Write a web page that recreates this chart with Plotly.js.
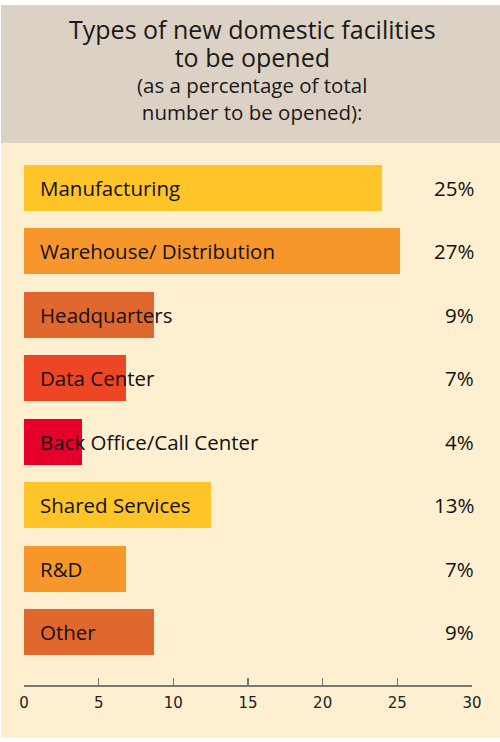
<!DOCTYPE html>
<html>
<head>
<meta charset="utf-8">
<script src="https://cdn.plot.ly/plotly-3.0.1.min.js"></script>
<style>
  html, body { margin: 0; padding: 0; background: #fff; }
  #chart { width: 500px; height: 742px; }
</style>
</head>
<body>
<div id="chart"></div>
<script>
// data
const categories = ['Manufacturing', 'Warehouse/ Distribution', 'Headquarters', 'Data Center',
  'Back Office/Call Center', 'Shared Services', 'R&D', 'Other'];
const barValues = [24.0, 25.2, 8.7, 6.8, 3.9, 12.5, 6.8, 8.7];
const pctLabels = ['25%', '27%', '9%', '7%', '4%', '13%', '7%', '9%'];
const barColors = ['#FEC428', '#F7962B', '#E0672E', '#EE4524', '#E4002B', '#FEC428', '#F7962B', '#E0672E'];
const tickVals = [0, 5, 10, 15, 20, 25, 30];

const titleMain = ['Types of new domestic facilities', 'to be opened'];
const titleSub = ['(as a percentage of total', 'number to be opened):'];

const W = 500, H = 742;
const margin = { l: 24, r: 28, t: 156, b: 57 };
const plotH = H - margin.t - margin.b;
const plotW = W - margin.l - margin.r;
// pixel -> paper helpers for the background bands
const py = px => (H - margin.b - px) / plotH;
const pxX = px => (px - margin.l) / plotW;

const labelFont = { family: 'Open Sans, sans-serif', size: 20.5, color: '#111' };

const trace = {
  type: 'bar',
  orientation: 'h',
  y: categories,
  x: barValues,
  marker: { color: barColors, line: { width: 0 } },
  width: 0.72,
  hoverinfo: 'skip'
};

const annotations = [];
categories.forEach((c, i) => {
  annotations.push({
    x: 0, y: c, xref: 'x', yref: 'y',
    text: c, showarrow: false, xanchor: 'left', xshift: 14,
    font: labelFont
  });
  annotations.push({
    x: 30, y: c, xref: 'x', yref: 'y',
    text: pctLabels[i], showarrow: false, xanchor: 'right', xshift: 4,
    font: labelFont
  });
});

// title: two blocks in the grey band, line gap = 1.3 * base size
const titleBlock = (lines, base, size, cy) => ({
  x: pxX(252), y: py(cy), xref: 'paper', yref: 'paper',
  text: lines.map(l => '<span style="font-size:' + size + 'px">' + l + '</span>').join('<br>'),
  showarrow: false, xanchor: 'center', yanchor: 'middle',
  font: { family: 'Open Sans, sans-serif', size: base, color: '#1a1a1a' }
});
annotations.push(titleBlock(titleMain, 21.5, 25, 43));
annotations.push(titleBlock(titleSub, 20.5, 20.5, 98.5));

const layout = {
  width: W,
  height: H,
  margin: margin,
  paper_bgcolor: '#FFFFFF',
  plot_bgcolor: 'rgba(0,0,0,0)',
  showlegend: false,
  bargap: 0,
  xaxis: {
    range: [0, 30],
    tickvals: tickVals,
    ticks: 'inside',
    ticklen: 7,
    tickwidth: 1.5,
    tickcolor: '#777',
    showline: true,
    linecolor: '#777',
    linewidth: 1.5,
    showgrid: false,
    zeroline: false,
    tickfont: { family: 'DejaVu Sans, sans-serif', size: 15, color: '#222' },
    ticklabelstandoff: 3,
    fixedrange: true
  },
  yaxis: {
    range: [7.83, -0.5],
    showticklabels: false,
    showgrid: false,
    zeroline: false,
    showline: false,
    ticks: '',
    fixedrange: true
  },
  shapes: [
    { type: 'rect', xref: 'paper', yref: 'paper', layer: 'below',
      x0: pxX(1), x1: pxX(500), y0: py(738), y1: py(143),
      fillcolor: '#FEEFD1', line: { width: 0 } },
    { type: 'rect', xref: 'paper', yref: 'paper', layer: 'below',
      x0: pxX(1), x1: pxX(500), y0: py(143), y1: py(5),
      fillcolor: '#DCD1C5', line: { width: 0 } }
  ],
  annotations: annotations
};

Plotly.newPlot('chart', [trace], layout, { displayModeBar: false, staticPlot: true });
</script>
</body>
</html>
